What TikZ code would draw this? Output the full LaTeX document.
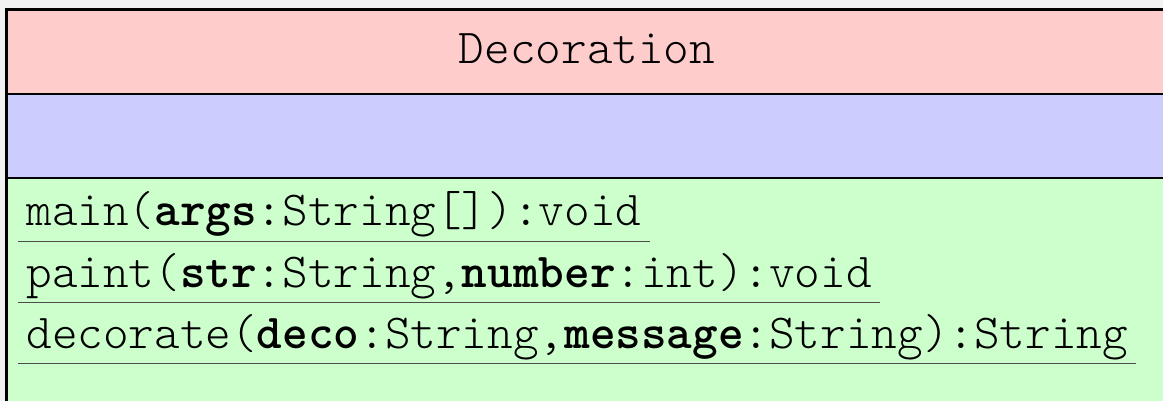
\documentclass[tikz,border=0pt]{standalone}
\newcommand{\cf}{\fontfamily{lmtt}\fontseries{l}\fontsize{24.4}{28}\selectfont}
\definecolor{headpink}{HTML}{FFCCCC}
\definecolor{attrblue}{HTML}{CCCCFF}
\definecolor{opgreen}{HTML}{CCFFCC}
\definecolor{pagegray}{HTML}{F2F2F2}

\begin{document}
\begin{tikzpicture}[x=0.5pt,y=-0.5pt,
  op/.style={anchor=base west,inner xsep=4pt,inner ysep=0pt,text depth=7.5pt,font=\cf},
  uline/.style={black!70,line width=0.9pt}]
  \useasboundingbox (0,0) rectangle (1163,401);
  \fill[pagegray] (0,0) rectangle (1163,401);
  \clip (0,0) rectangle (1163,401);
  \begin{scope}
   \fill[headpink] (6,10)  rectangle (1168,94);
   \fill[attrblue] (6,94)  rectangle (1168,178);
   \fill[opgreen]  (6,178) rectangle (1168,420);
   \draw[line width=1.2pt] (6,94)  -- (1168,94);
   \draw[line width=1.2pt] (6,178) -- (1168,178);
   \draw[line width=1.5pt] (6,10)  rectangle (1168,420);
   \node[font=\cf,anchor=base] (name) at (587,64) {Decoration};
   \node[op] (main)     at (18,226) {main(\textbf{args}:String[]):void};
   \node[op] (paint)    at (18,287) {paint(\textbf{str}:String,\textbf{number}:int):void};
   \node[op] (decorate) at (18,348) {decorate(\textbf{deco}:String,\textbf{message}:String):String};
   \draw[uline] (main.south west)     -- (main.south east);
   \draw[uline] (paint.south west)    -- (paint.south east);
   \draw[uline] (decorate.south west) -- (decorate.south east);
  \end{scope}
\end{tikzpicture}
\end{document}
